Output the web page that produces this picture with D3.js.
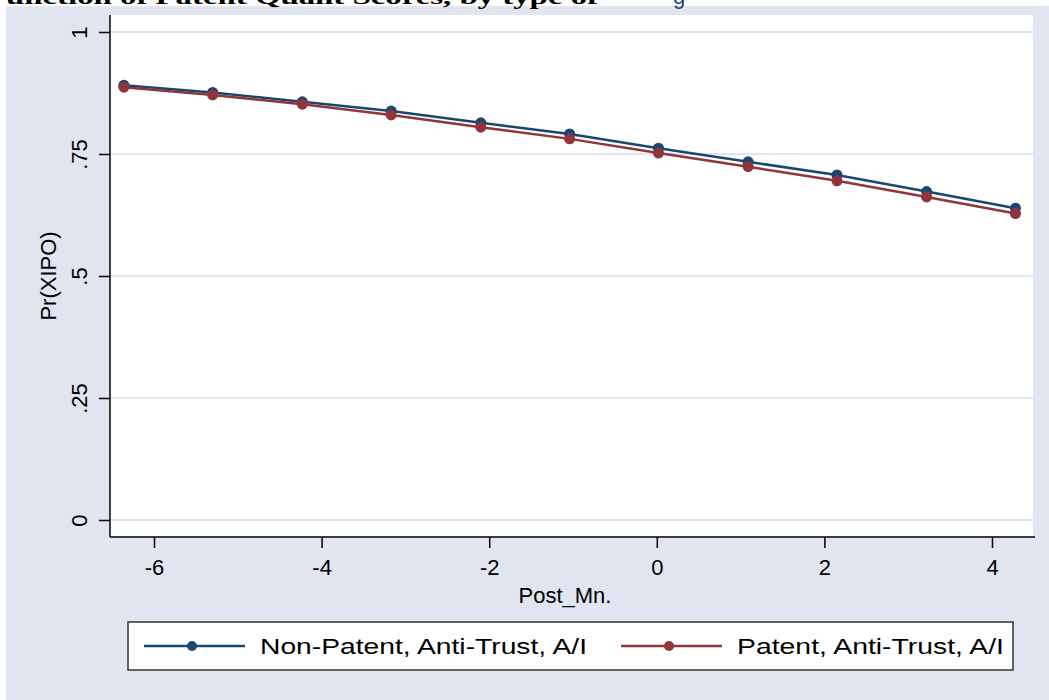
<!DOCTYPE html>
<html>
<head>
<meta charset="utf-8">
<script src="https://cdn.jsdelivr.net/npm/d3@7"></script>
<style>
  body { margin: 0; background: #fff; }
  text { font-family: Arial, "Liberation Sans", sans-serif; }
</style>
</head>
<body>
<div id="chart"></div>
<script>
const svgWidth = 1049;
const svgHeight = 700;

// data
const postMn = [-6.36, -5.30, -4.23, -3.17, -2.10, -1.04, 0.02, 1.09, 2.15, 3.22, 4.28];
const nonPatent = [0.891, 0.876, 0.857, 0.838, 0.814, 0.791, 0.762, 0.734, 0.707, 0.673, 0.639];
const patent = [0.887, 0.871, 0.852, 0.830, 0.805, 0.781, 0.752, 0.724, 0.695, 0.662, 0.628];
const seriesNames = ["Non-Patent, Anti-Trust, A/I", "Patent, Anti-Trust, A/I"];
const xTicks = [-6, -4, -2, 0, 2, 4];
const yTicks = [0, 0.25, 0.5, 0.75, 1];
const yTickLabels = ["0", ".25", ".5", ".75", "1"];

const colors = ["#1a476f", "#90353b"];

const plot = { left: 110, right: 1033, top: 15, bottom: 536 };

var svg = d3.select("#chart")
    .append("svg")
    .attr("width", svgWidth)
    .attr("height", svgHeight);

// graph region background
svg.append("rect")
    .attr("x", 6).attr("y", 6)
    .attr("width", svgWidth - 6).attr("height", svgHeight - 6)
    .attr("fill", "#e1e5ef");

// plot region
svg.append("rect")
    .attr("x", plot.left).attr("y", plot.top)
    .attr("width", plot.right - plot.left).attr("height", plot.bottom - plot.top)
    .attr("fill", "#fff");

// title, cut off at the top edge as in the original
svg.append("text")
    .attr("x", -14).attr("y", 4)
    .attr("font-weight", "bold")
    .attr("font-size", 22)
    .attr("textLength", 612)
    .attr("lengthAdjust", "spacingAndGlyphs")
    .attr("fill", "#000")
    .style("font-family", "'Liberation Serif', 'Times New Roman', serif")
    .text("Function of Patent Quant Scores, by type of");

svg.append("text")
    .attr("x", 673).attr("y", 4)
    .attr("font-size", 22)
    .attr("fill", "#1f3f7a")
    .text("g");

var xScale = d3.scaleLinear()
    .domain([-6, 4])
    .range([154, 992]);

var yScale = d3.scaleLinear()
    .domain([0, 1])
    .range([520, 32]);

// grid lines
svg.append("g")
    .selectAll("line")
    .data(yTicks)
    .enter()
    .append("line")
    .attr("x1", plot.left).attr("x2", plot.right)
    .attr("y1", d => yScale(d)).attr("y2", d => yScale(d))
    .attr("stroke", "#e1e5ef")
    .attr("stroke-width", 2);

// y axis
var leftAxis = d3.axisLeft(yScale)
    .tickValues(yTicks)
    .tickFormat((d, i) => yTickLabels[i])
    .tickSize(11)
    .tickSizeOuter(0);

var yAxis = svg.append("g")
    .attr("transform", `translate(${plot.left}, 0)`)
    .call(leftAxis);
yAxis.select(".domain").remove();
yAxis.append("line")
    .attr("x1", 0).attr("x2", 0)
    .attr("y1", plot.top).attr("y2", plot.bottom + 1)
    .attr("stroke", "#000").attr("stroke-width", 1.5);
yAxis.selectAll(".tick line").attr("stroke-width", 1.5);
yAxis.selectAll(".tick text")
    .attr("font-size", 22)
    .attr("fill", "#000")
    .attr("text-anchor", "middle")
    .attr("x", 0).attr("y", 0).attr("dy", 0)
    .attr("transform", "translate(-23, 0) rotate(-90)");

// x axis
var bottomAxis = d3.axisBottom(xScale)
    .tickValues(xTicks)
    .tickFormat(d => String(d))
    .tickSize(11)
    .tickSizeOuter(0);

var xAxis = svg.append("g")
    .attr("transform", `translate(0, ${plot.bottom + 1})`)
    .call(bottomAxis);
xAxis.select(".domain").remove();
xAxis.append("line")
    .attr("x1", plot.left).attr("x2", plot.right + 2)
    .attr("y1", 0).attr("y2", 0)
    .attr("stroke", "#000").attr("stroke-width", 1.5);
xAxis.selectAll(".tick line").attr("stroke-width", 1.5);
xAxis.selectAll(".tick text")
    .attr("font-size", 22)
    .attr("fill", "#000")
    .attr("y", 22);

// axis titles
svg.append("text")
    .attr("x", 565).attr("y", 603)
    .attr("text-anchor", "middle")
    .attr("font-size", 22)
    .text("Post_Mn.");

svg.append("text")
    .attr("transform", `translate(56, 276) rotate(-90)`)
    .attr("text-anchor", "middle")
    .attr("font-size", 22)
    .text("Pr(XIPO)");

// series
var series = [nonPatent, patent];
var line = d3.line()
    .x((d, i) => xScale(postMn[i]))
    .y(d => yScale(d));

series.forEach(function(vals, s) {
    var g = svg.append("g");
    g.append("path")
        .datum(vals)
        .attr("d", line)
        .attr("fill", "none")
        .attr("stroke", colors[s])
        .attr("stroke-width", 2.5);
    g.selectAll("circle")
        .data(vals)
        .enter()
        .append("circle")
        .attr("cx", (d, i) => xScale(postMn[i]))
        .attr("cy", d => yScale(d))
        .attr("r", 5.5)
        .attr("fill", colors[s]);
});

// legend
var legend = svg.append("g");
legend.append("rect")
    .attr("x", 128).attr("y", 622)
    .attr("width", 885).attr("height", 48)
    .attr("fill", "#fff")
    .attr("stroke", "#333")
    .attr("stroke-width", 1.5);

var legendX = [144, 621];
seriesNames.forEach(function(name, s) {
    var x0 = legendX[s];
    legend.append("line")
        .attr("x1", x0).attr("x2", x0 + 101)
        .attr("y1", 646).attr("y2", 646)
        .attr("stroke", colors[s])
        .attr("stroke-width", 2.5);
    legend.append("circle")
        .attr("cx", x0 + 48).attr("cy", 646)
        .attr("r", 5)
        .attr("fill", colors[s]);
    legend.append("text")
        .attr("x", x0 + 116).attr("y", 654)
        .attr("font-size", 22)
        .attr("textLength", s === 0 ? 327 : 267)
        .attr("lengthAdjust", "spacingAndGlyphs")
        .text(name);
});
</script>
</body>
</html>
